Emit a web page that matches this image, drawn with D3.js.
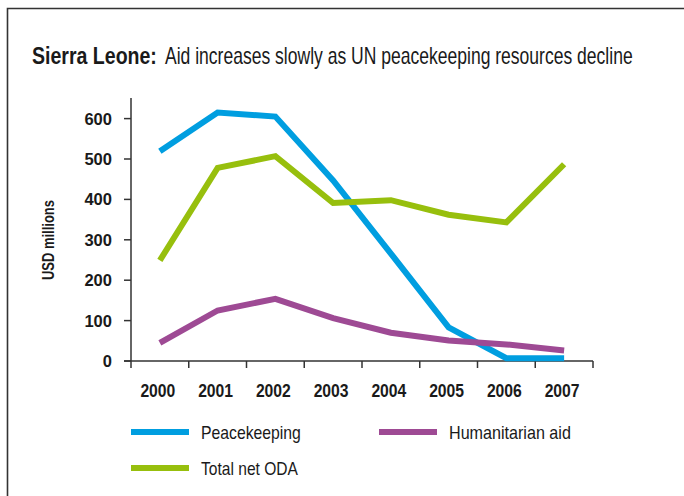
<!DOCTYPE html>
<html>
<head>
<meta charset="utf-8">
<script src="https://cdn.jsdelivr.net/npm/d3@7"></script>
<style>
  html, body { margin: 0; padding: 0; background: #fff; }
  svg { display: block; }
  text { font-family: "Liberation Sans", Arial, sans-serif; fill: #1a1a1a; }
</style>
</head>
<body>
<svg id="chart" width="684" height="496"></svg>
<script>
// Sierra Leone, USD millions per year
const years = ["2000", "2001", "2002", "2003", "2004", "2005", "2006", "2007"];
const peacekeeping = [519, 615, 605, 447, 266, 83, 7, 7];
const totalNetODA = [249, 478, 507, 391, 398, 362, 343, 487];
const humanitarianAid = [45, 125, 154, 106, 70, 51, 41, 26];
const yTicks = [0, 100, 200, 300, 400, 500, 600];

const series = [
  { name: "Peacekeeping", values: peacekeeping, color: "#009ee0" },
  { name: "Total net ODA", values: totalNetODA, color: "#97bf0d" },
  { name: "Humanitarian aid", values: humanitarianAid, color: "#9e4a94" }
];

const svg = d3.select("#chart");

// Frame: top and left rules
svg.append("path")
  .attr("d", "M7.5,496 L7.5,8.5 L684,8.5")
  .attr("fill", "none")
  .attr("stroke", "#333")
  .attr("stroke-width", 1.6);

// Condensed lettering: place a label at (x, y) and squeeze it horizontally
// so that it spans the given width. anchor: 0 = start, 0.5 = middle, 1 = end.
function condensedText(parent, str, x, y, width, size, bold, anchor = 0) {
  const t = parent.append("text")
    .style("font-size", size + "px")
    .style("font-weight", bold ? "bold" : "normal")
    .text(str);
  const natural = t.node().getComputedTextLength();
  const sx = width / natural;
  t.attr("transform", `translate(${x - anchor * width},${y}) scale(${sx},1)`);
  return t;
}

// Title: bold lead-in followed by the headline
condensedText(svg, "Sierra Leone:", 32, 64, 125, 23, true);
condensedText(svg, "Aid increases slowly as UN peacekeeping resources decline", 165, 64, 468, 23, false);

const plot = { left: 131, right: 593, top: 98, bottom: 361 };

const x = d3.scaleBand().domain(years).range([plot.left, plot.right]);
const y = d3.scaleLinear().domain([0, 600]).range([plot.bottom, plot.bottom - 242.4]);

// X axis: ticks on band edges, labels centred in bands
const xAxisG = svg.append("g").attr("transform", `translate(0,${plot.bottom})`);
xAxisG.append("line")
  .attr("x1", plot.left - 7).attr("x2", plot.right)
  .attr("stroke", "#333").attr("stroke-width", 1.5);
const edges = years.map(d => x(d)).concat([plot.right]);
xAxisG.selectAll("line.tick").data(edges).enter().append("line")
  .attr("class", "tick")
  .attr("x1", d => d).attr("x2", d => d)
  .attr("y1", 0).attr("y2", 7)
  .attr("stroke", "#333").attr("stroke-width", 1.5);
years.forEach(yr => {
  condensedText(xAxisG, yr, x(yr) + x.bandwidth() / 2 - 2, 36, 35, 18, true, 0.5);
});

// Y axis: ticks from the scale, labels right-aligned against the ticks
const yAxisG = svg.append("g").attr("transform", `translate(${plot.left},0)`);
yAxisG.selectAll("line.tick").data(yTicks).enter().append("line")
  .attr("class", "tick")
  .attr("x1", -7).attr("x2", 0)
  .attr("y1", d => y(d)).attr("y2", d => y(d))
  .attr("stroke", "#333").attr("stroke-width", 1.5);
yTicks.forEach(v => {
  const s = String(v);
  condensedText(yAxisG, s, -19, y(v) + 6, s.length * 9.2, 17, true, 1);
});
yAxisG.append("line")
  .attr("x1", 0).attr("x2", 0)
  .attr("y1", plot.top).attr("y2", plot.bottom)
  .attr("stroke", "#333").attr("stroke-width", 1.5);

// Y axis title, rotated
const yTitle = svg.append("g").attr("transform", "translate(54,280) rotate(-90)");
condensedText(yTitle, "USD millions", 0, 0, 80, 17, true);

// Lines
const line = d3.line()
  .x((d, i) => x(years[i]) + x.bandwidth() / 2)
  .y(d => y(d));

svg.append("g").selectAll("path").data(series).enter().append("path")
  .attr("d", d => line(d.values))
  .attr("fill", "none")
  .attr("stroke", d => d.color)
  .attr("stroke-width", 6)
  .attr("stroke-linejoin", "miter");

// Legend
const legendItems = [
  { s: series[0], x: 131, y: 432, w: 100 },
  { s: series[2], x: 379, y: 432, w: 122 },
  { s: series[1], x: 131, y: 468, w: 97 }
];
legendItems.forEach(d => {
  const g = svg.append("g").attr("transform", `translate(${d.x},${d.y})`);
  g.append("line")
    .attr("x1", 0).attr("x2", 58)
    .attr("stroke", d.s.color).attr("stroke-width", 6);
  condensedText(g, d.s.name, 70, 7, d.w, 18, false);
});
</script>
</body>
</html>
